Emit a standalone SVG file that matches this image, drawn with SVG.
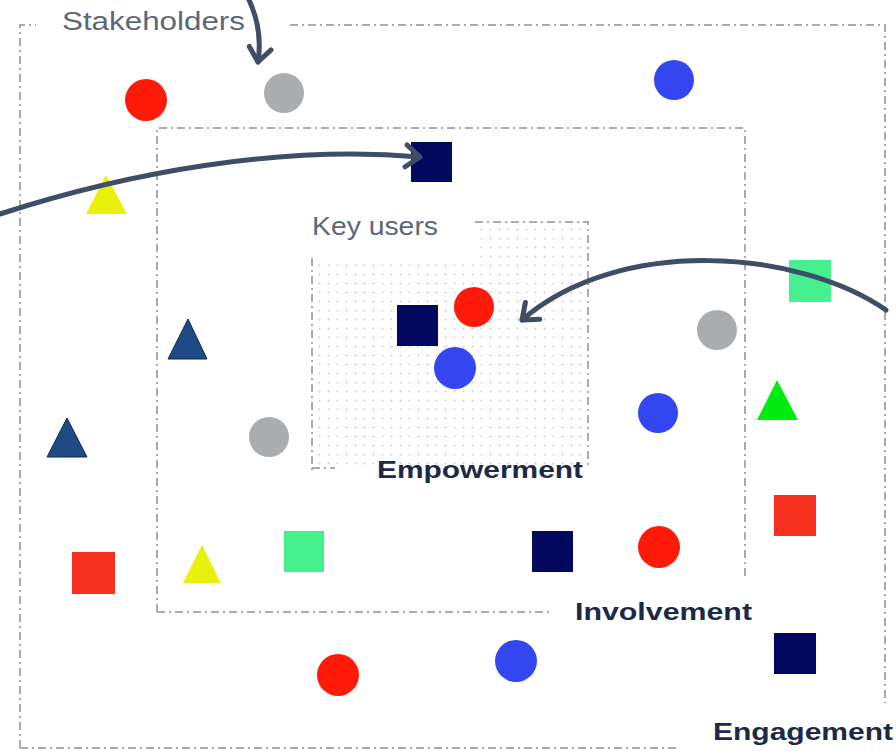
<svg xmlns="http://www.w3.org/2000/svg" width="896" height="753" viewBox="0 0 896 753">
<defs>
<style>
.box{fill:none;stroke:#a9abae;stroke-width:2;stroke-dasharray:8 4 2 4}
.lbl{font-family:"Liberation Sans",Arial,sans-serif;font-size:25px;fill:#5a6878}
.bold{font-family:"Liberation Sans",Arial,sans-serif;font-size:24px;font-weight:bold;fill:#1c2a48}
.con{fill:none;stroke:#3f4e66;stroke-width:5;stroke-linecap:round}
.red{fill:#ff1a0a}
.redsq{fill:#f5301e}
.gray{fill:#a9adb0}
.blue{fill:#3346f0}
.navy{fill:#02085e}
.yellow{fill:#e8f00c}
.lgreen{fill:#46f08e}
.green{fill:#00ec10}
.ntri{fill:#1f4a86;stroke:#13284a;stroke-width:1}
</style>
<pattern id="dots" width="9" height="9" patternUnits="userSpaceOnUse">
<circle cx="4.5" cy="4.5" r="0.9" fill="#c8cace"/>
</pattern>
<marker id="head" markerUnits="userSpaceOnUse" markerWidth="40" markerHeight="40" refX="0" refY="0" viewBox="-20 -20 40 40" orient="auto" overflow="visible">
<path d="M-14,-11 L0,0 L-14,11" fill="none" stroke="#3f4e66" stroke-width="5" stroke-linecap="round" stroke-linejoin="round"/>
</marker>
</defs>
<rect width="896" height="753" fill="#ffffff"/>

<g id="stakeholders-box">
<path class="box" d="M20,748 L20,25 L36,25 M290,25 L885,25 L885,703 M20,748 L680,748"/>
<text class="lbl" x="62" y="30" textLength="183" lengthAdjust="spacingAndGlyphs">Stakeholders</text>
<text class="bold" x="713" y="740" textLength="180" lengthAdjust="spacingAndGlyphs">Engagement</text>
</g>

<g id="involvement-box">
<path class="box" d="M157,612 L157,128 L745,128 L745,577 M157,612 L553,612"/>
<text class="bold" x="575" y="620" textLength="177" lengthAdjust="spacingAndGlyphs">Involvement</text>
</g>

<g id="keyusers-box">
<path d="M312,258 L475,258 L475,222 L588,222 L588,466 L312,466 Z" fill="url(#dots)"/>
<path class="box" d="M475,222 L588,222 L588,466 M312,258 L312,470 M312,468 L335,468"/>
<text class="lbl" x="312" y="235" textLength="126" lengthAdjust="spacingAndGlyphs">Key users</text>
<text class="bold" x="377" y="478" textLength="206" lengthAdjust="spacingAndGlyphs">Empowerment</text>
</g>

<g id="shapes">
<circle id="s1" class="red" cx="146" cy="100" r="21"/>
<circle id="s2" class="gray" cx="284" cy="93" r="20"/>
<circle id="s3" class="blue" cx="674" cy="80" r="20"/>
<rect id="s4" class="navy" x="411" y="142" width="41" height="40"/>
<polygon id="s5" class="yellow" points="106,175 127,214 86,214"/>
<rect id="s6" class="navy" x="397" y="305" width="41" height="41"/>
<circle id="s7" class="red" cx="474" cy="307" r="20"/>
<circle id="s8" class="blue" cx="455" cy="368" r="21"/>
<circle id="s9" class="gray" cx="717" cy="330" r="20"/>
<rect id="s10" class="lgreen" x="789" y="260" width="42" height="42"/>
<circle id="s11" class="blue" cx="658" cy="413" r="20"/>
<polygon id="s12" class="green" points="777,380 798,420 757,420"/>
<rect id="s13" class="redsq" x="774" y="495" width="42" height="41"/>
<polygon id="s14" class="ntri" points="188,319 207,359 168,359"/>
<polygon id="s15" class="ntri" points="67,418 87,457 47,457"/>
<circle id="s16" class="gray" cx="269" cy="437" r="20"/>
<rect id="s17" class="redsq" x="72" y="552" width="43" height="42"/>
<polygon id="s18" class="yellow" points="202,545 221,583 183,583"/>
<rect id="s19" class="lgreen" x="284" y="531" width="40" height="41"/>
<circle id="s20" class="red" cx="338" cy="675" r="21"/>
<rect id="s21" class="navy" x="532" y="531" width="41" height="41"/>
<circle id="s22" class="red" cx="659" cy="547" r="21"/>
<circle id="s23" class="blue" cx="516" cy="661" r="21"/>
<rect id="s24" class="navy" x="774" y="633" width="42" height="41"/>
</g>

<g id="connectors">
<path class="con" d="M249,0 Q263,30 258,62" marker-end="url(#head)"/>
<path class="con" d="M0,214 C130,172 280,145 420,157" marker-end="url(#head)"/>
<path class="con" d="M886,310 C800,250 620,235 522,320" marker-end="url(#head)"/>
</g>
</svg>
